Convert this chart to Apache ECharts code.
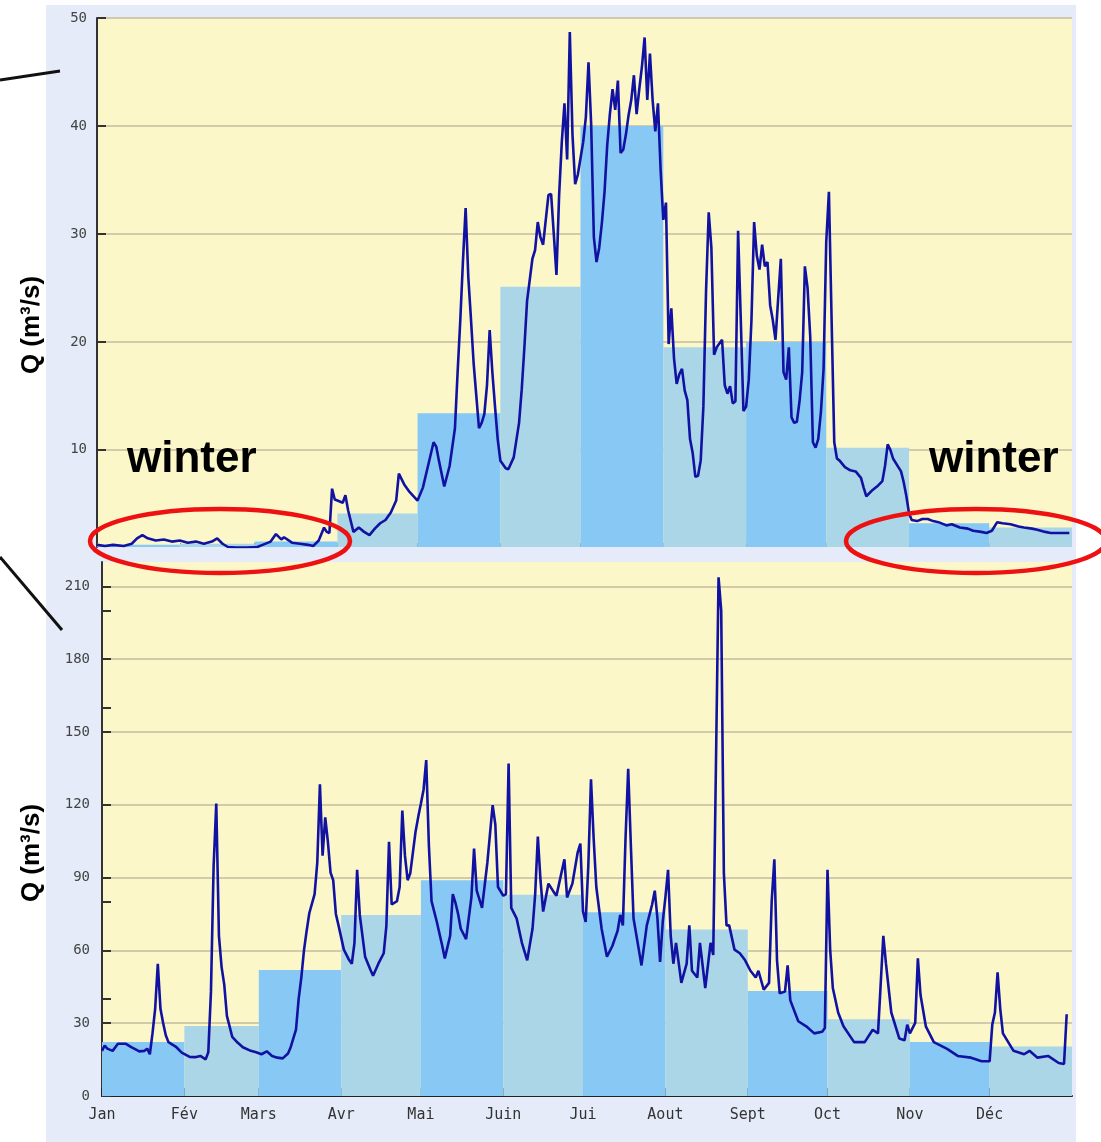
<!DOCTYPE html>
<html><head><meta charset="utf-8">
<script src="https://cdn.jsdelivr.net/npm/echarts@6/dist/echarts.min.js"></script>
<style>html,body{margin:0;padding:0;background:#fff}#c{width:1101px;height:1142px}</style>
</head><body><div id="c"></div>
<script>
// ---------- data ----------
const monthNames = ['Jan','Fév','Mars','Avr','Mai','Juin','Jui','Aout','Sept','Oct','Nov','Déc'];
const monthStarts = [0,31,59,90,120,151,181,212,243,273,304,334];
const yearEnd = 365;

const topMonthly = [1.2,1.3,1.5,4.1,13.4,25.1,40.0,19.5,20.0,10.2,3.2,2.8];
const bottomMonthly = [22.2,28.8,51.9,74.6,88.9,82.9,75.7,68.6,43.3,31.6,22.2,20.4];

const topTicks = [10,20,30,40,50];
const bottomTicks = [0,30,60,90,120,150,180,210];
const bottomMinorTicks = [40,80,160,200];

const topDays = [0,3,6,10,13,15,17,19,22,25,28,31,34,37,40,43,45,47,49,52,56,60,62,65,67,69,70,73,76,79,81,83,85,86,87,88,89,90,92,93,94,96,98,100,102,104,106,108,110,112,113,115,117,120,122,124,126,127,128,130,132,134,135,136,137,138,139,140,141,142,143,144,145,146,147,148,149,150,151,153,154,156,158,159,160,161,163,164,165,166,167,168,169,170,171,172,173,174,175,176,177,178,179,180,181,182,183,184,185,186,187,188,189,190,191,192,193,194,195,196,197,198,199,200,201,202,203,204,205,206,207,208,209,210,211,212,213,214,215,216,217,218,219,220,221,222,223,224,225,226,227,228,229,230,231,232,234,235,236,237,238,239,240,241,242,243,244,245,246,247,248,249,250,251,252,253,254,255,256,257,258,259,260,261,262,263,264,265,266,267,268,269,270,271,272,273,274,275,276,277,278,280,282,284,286,287,288,290,292,294,295,296,297,298,300,301,302,303,304,305,307,309,311,313,315,318,320,323,326,328,331,333,335,337,339,342,345,347,350,352,355,357,360,364];
const topFlow = [1.2,1.1,1.2,1.1,1.3,1.8,2.1,1.8,1.6,1.7,1.5,1.6,1.4,1.5,1.3,1.5,1.8,1.3,1.0,0.95,0.95,1.0,1.2,1.5,2.2,1.7,1.9,1.4,1.3,1.2,1.1,1.6,2.8,2.4,2.3,6.4,5.4,5.3,5.1,5.8,4.4,2.4,2.8,2.4,2.1,2.7,3.2,3.5,4.2,5.3,7.8,6.8,6.1,5.3,6.5,8.6,10.7,10.3,9.0,6.6,8.5,12.0,17.2,22.0,27.5,32.4,26.0,22.1,18.0,15.0,12.0,12.5,13.3,16.0,21.1,17.2,14.0,11.0,9.0,8.3,8.2,9.3,12.5,15.6,19.5,23.8,27.7,28.5,31.1,29.7,29.0,31.3,33.6,33.7,30.0,26.2,33.6,38.5,42.1,36.9,48.7,39.2,34.6,35.5,37.0,38.5,40.8,45.9,40.1,29.7,27.4,28.7,31.0,33.9,38.2,41.1,43.4,41.5,44.2,37.5,37.8,39.2,41.0,42.4,44.7,41.1,43.4,45.5,48.2,42.4,46.7,42.4,39.5,42.1,35.9,31.3,32.9,19.8,23.1,18.5,16.1,17.0,17.5,15.5,14.6,11.0,9.7,7.5,7.6,9.0,14.0,24.7,32.0,28.7,18.8,19.5,20.2,16.0,15.2,15.9,14.3,14.5,30.3,22.1,13.6,14.0,16.5,22.0,31.1,28.0,26.7,29.0,27.0,27.4,23.4,22.0,20.2,24.0,27.7,17.2,16.5,19.5,13.0,12.5,12.6,14.5,17.2,27.0,25.0,20.5,10.7,10.2,11.0,13.5,17.5,29.3,33.9,22.1,10.7,9.2,9.0,8.4,8.1,8.0,7.4,6.5,5.7,6.2,6.6,7.1,8.5,10.5,10.0,9.2,8.4,8.0,7.0,5.7,4.1,3.5,3.4,3.6,3.6,3.4,3.3,3.0,3.1,2.8,2.7,2.5,2.4,2.3,2.5,3.3,3.2,3.1,2.9,2.8,2.7,2.6,2.4,2.3,2.3,2.3];

const bottomDays = [0,1,2,4,6,9,11,13,14,16,17,18,19,20,21,22,23,24,25,28,30,33,35,37,39,40,41,42,43,44,45,46,47,49,51,53,56,58,60,62,64,66,68,70,71,73,74,75,76,77,78,80,81,82,83,84,85,86,87,88,89,91,93,94,95,96,97,99,101,102,104,106,107,108,109,111,112,113,114,115,116,118,119,120,121,122,123,124,126,128,129,131,132,133,134,135,137,139,140,141,143,145,147,148,149,151,152,153,154,156,158,160,162,163,164,165,166,168,170,171,172,174,175,177,179,180,181,182,183,184,185,186,188,190,192,194,195,196,197,198,199,200,202,203,205,207,208,209,210,211,212,213,214,215,216,218,220,221,222,224,225,227,229,230,231,232,233,234,235,236,238,240,242,244,246,247,249,251,252,253,254,255,257,258,259,262,265,268,271,272,273,274,275,277,279,283,287,290,292,293,294,295,297,300,302,303,304,306,307,308,310,313,318,322,327,331,334,335,336,337,338,339,343,347,349,352,356,360,362,363];
const bottomFlow = [18.6,20.8,19.5,18.6,21.5,21.5,20.1,19.0,18.4,18.6,19.5,17.2,25.8,35.9,54.5,35.9,30.1,25.0,22.2,20.1,17.9,16.1,16.0,16.5,15.1,18.0,43.0,94.7,120.5,66.0,53.1,45.9,33.0,24.4,22.0,20.1,18.6,18.0,17.2,18.4,16.5,15.8,15.5,17.5,20.1,27.3,40.0,48.8,60.0,68.0,75.3,83.2,96.1,128.4,99.0,114.8,104.7,92.0,88.9,75.0,70.3,60.3,56.0,54.5,63.1,93.2,74.6,57.4,52.0,49.5,54.5,58.8,70.0,104.7,78.9,80.3,86.1,117.6,99.0,88.9,91.8,109.0,115.0,120.5,126.2,138.4,103.3,80.3,71.7,62.0,56.7,66.0,83.2,79.6,75.0,68.9,64.6,81.8,101.9,84.6,77.5,96.1,119.8,111.9,86.1,82.5,83.2,137.0,77.5,73.2,63.1,55.9,68.9,83.2,106.9,88.9,76.0,87.5,84.0,82.5,87.5,97.5,81.8,87.5,100.4,104.0,76.0,71.7,95.0,130.5,106.2,86.1,68.9,57.4,61.7,68.0,74.6,70.3,106.2,134.8,103.3,73.2,60.3,53.8,70.3,78.9,84.6,73.2,55.2,71.7,81.8,93.2,66.0,54.5,63.1,46.6,54.5,70.3,51.6,48.8,63.1,44.5,63.1,58.1,134.8,213.7,200.0,91.8,70.3,70.3,60.3,58.8,55.9,51.6,48.8,51.6,43.8,46.6,80.3,97.5,55.9,42.3,43.0,53.8,39.4,30.8,28.7,25.8,26.5,28.0,93.2,60.3,44.5,34.4,28.7,22.2,22.2,27.3,25.8,45.9,66.0,54.5,34.4,23.7,23.0,29.4,25.8,30.1,56.7,41.6,28.7,22.2,19.4,16.5,15.8,14.3,14.3,29.4,34.4,50.9,35.9,25.8,18.6,17.2,18.6,15.8,16.5,13.6,13.2,33.7];

// ---------- styling ----------
const DARK_BAR = '#88c8f4';
const LIGHT_BAR = '#aad6e7';
const PLOT_BG = '#fbf7c9';
const OUTER_BG = '#e5ebf8';
const LINE_COL = '#1212a2';
const GRID_COL = '#c4bb9c';
const TICK_FONT = '"DejaVu Sans Mono", "Liberation Mono", monospace';
const LABEL_FONT = 'bold 26px "Liberation Sans", Arial, sans-serif';
const WINTER_FONT = 'bold 44px "Liberation Sans", Arial, sans-serif';

function monthBars(values) {
  return monthStarts.map((s, i) => [s, i < 11 ? monthStarts[i + 1] : yearEnd, values[i]]);
}
function rectRenderer(yMin) {
  return function (params, api) {
    const p0 = api.coord([api.value(0), api.value(2)]);
    const p1 = api.coord([api.value(1), yMin]);
    return {
      type: 'rect',
      shape: { x: p0[0], y: p0[1], width: p1[0] - p0[0], height: p1[1] - p0[1] },
      style: { fill: params.dataIndex % 2 === 0 ? DARK_BAR : LIGHT_BAR }
    };
  };
}
const pairs = (days, vals) => days.map((d, i) => [d, vals[i]]);
const monthLabel = v => { const i = monthStarts.indexOf(v); return i >= 0 ? monthNames[i] : ''; };

const chart = echarts.init(document.getElementById('c'), null, { renderer: 'canvas' });
chart.setOption({
  animation: false,
  backgroundColor: '#ffffff',
  grid: [
    { left: 97, right: 29, top: 18, height: 529, show: true, backgroundColor: PLOT_BG, borderWidth: 0 },
    { left: 102, right: 29, top: 562, height: 534, show: true, backgroundColor: PLOT_BG, borderWidth: 0 }
  ],
  xAxis: [
    { type: 'value', gridIndex: 0, min: 0, max: yearEnd,
      axisLine: { show: false },
      axisTick: { show: true, inside: true, length: 4, customValues: monthStarts, lineStyle: { color: '#777', width: 1 } },
      axisLabel: { show: false }, splitLine: { show: false } },
    { type: 'value', gridIndex: 1, min: 0, max: yearEnd,
      axisLine: { show: true, onZero: false, lineStyle: { color: '#222', width: 2 } },
      axisTick: { show: true, inside: true, length: 8, customValues: monthStarts, lineStyle: { color: '#222', width: 2 } },
      axisLabel: { customValues: monthStarts, formatter: monthLabel, fontFamily: TICK_FONT, fontSize: 15, color: '#333', margin: 12 },
      splitLine: { show: false } }
  ],
  yAxis: [
    { type: 'value', gridIndex: 0, min: 1, max: 50,
      axisLine: { show: true, lineStyle: { color: '#333', width: 2 } },
      axisTick: { show: true, inside: true, length: 9, customValues: topTicks, lineStyle: { color: '#333', width: 2 } },
      axisLabel: { customValues: topTicks, fontFamily: TICK_FONT, fontSize: 14, color: '#444', margin: 10 },
      splitLine: { show: true, lineStyle: { color: GRID_COL, width: 1.5 } } },
    { type: 'value', gridIndex: 1, min: 0, max: 220,
      axisLine: { show: true, lineStyle: { color: '#333', width: 2 } },
      axisTick: { show: true, inside: true, length: 9, customValues: bottomTicks, lineStyle: { color: '#333', width: 2 } },
      axisLabel: { customValues: bottomTicks, fontFamily: TICK_FONT, fontSize: 14, color: '#444', margin: 12 },
      splitLine: { show: true, lineStyle: { color: GRID_COL, width: 1.5 } } },
    { type: 'value', gridIndex: 1, min: 0, max: 220, position: 'left',
      axisLine: { show: false },
      axisTick: { show: true, inside: true, length: 9, customValues: bottomMinorTicks, lineStyle: { color: '#333', width: 2 } },
      axisLabel: { show: false }, splitLine: { show: false } }
  ],
  series: [
    { type: 'custom', xAxisIndex: 0, yAxisIndex: 0, renderItem: rectRenderer(1), encode: { x: [0, 1], y: 2 }, data: monthBars(topMonthly), z: 1 },
    { type: 'line', xAxisIndex: 0, yAxisIndex: 0, data: pairs(topDays, topFlow), showSymbol: false, symbol: 'none',
      lineStyle: { color: LINE_COL, width: 2.6 }, z: 3 },
    { type: 'custom', xAxisIndex: 1, yAxisIndex: 1, renderItem: rectRenderer(0), encode: { x: [0, 1], y: 2 }, data: monthBars(bottomMonthly), z: 1 },
    { type: 'line', xAxisIndex: 1, yAxisIndex: 1, data: pairs(bottomDays, bottomFlow), showSymbol: false, symbol: 'none',
      lineStyle: { color: LINE_COL, width: 2.6 }, z: 3 }
  ],
  graphic: [
    { type: 'rect', z: -10, silent: true, shape: { x: 46, y: 5, width: 1030, height: 1137 }, style: { fill: OUTER_BG } },
    { type: 'text', z: 50, x: 32, y: 325, rotation: Math.PI / 2,
      style: { text: 'Q (m³/s)', font: LABEL_FONT, fill: '#000', align: 'center', verticalAlign: 'middle' } },
    { type: 'text', z: 50, x: 32, y: 853, rotation: Math.PI / 2,
      style: { text: 'Q (m³/s)', font: LABEL_FONT, fill: '#000', align: 'center', verticalAlign: 'middle' } },
    { type: 'text', z: 50, x: 127, y: 460,
      style: { text: 'winter', font: WINTER_FONT, fill: '#000', align: 'left', verticalAlign: 'middle' } },
    { type: 'text', z: 50, x: 929, y: 460,
      style: { text: 'winter', font: WINTER_FONT, fill: '#000', align: 'left', verticalAlign: 'middle' } },
    { type: 'ellipse', z: 50, shape: { cx: 220, cy: 541, rx: 130, ry: 32 }, style: { fill: 'none', stroke: '#ee1111', lineWidth: 4.5 } },
    { type: 'ellipse', z: 50, shape: { cx: 976, cy: 541, rx: 130, ry: 32 }, style: { fill: 'none', stroke: '#ee1111', lineWidth: 4.5 } },
    { type: 'line', z: 50, shape: { x1: 0, y1: 80, x2: 60, y2: 71 }, style: { stroke: '#111', lineWidth: 3 } },
    { type: 'line', z: 50, shape: { x1: 0, y1: 557, x2: 62, y2: 630 }, style: { stroke: '#111', lineWidth: 3 } }
  ]
});
</script></body></html>
